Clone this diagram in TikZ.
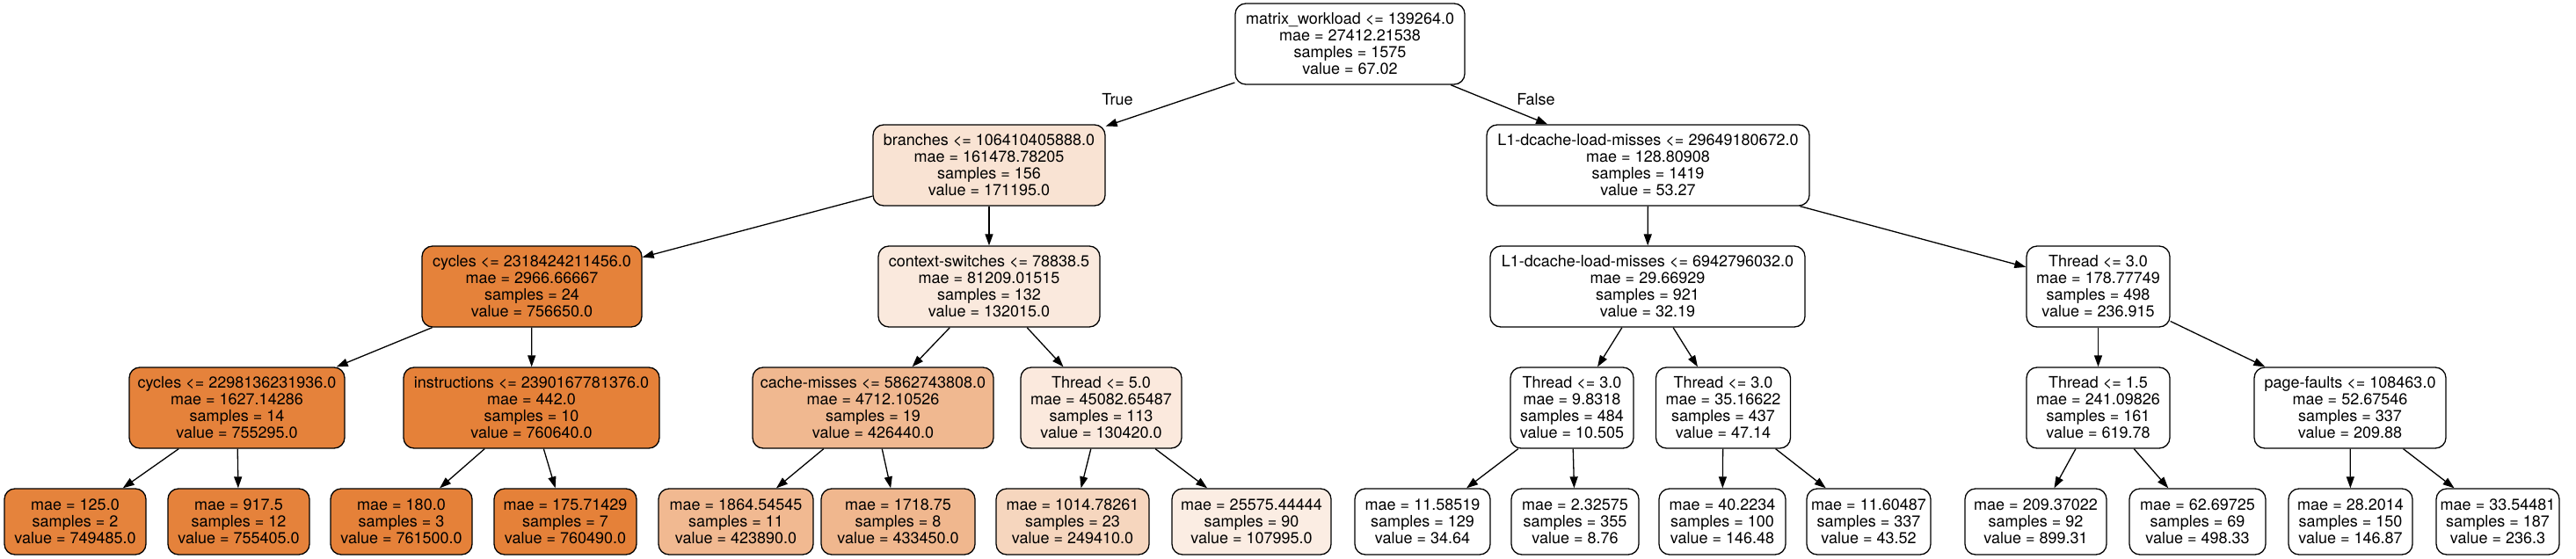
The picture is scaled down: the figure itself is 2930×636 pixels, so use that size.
\documentclass[tikz,border=0pt]{standalone}
\usepackage{fontspec}
\setmainfont{TeX Gyre Heros}
\usetikzlibrary{arrows.meta}
\definecolor{cA}{RGB}{229,129,57}
\definecolor{cB}{RGB}{229,130,58}
\definecolor{cC}{RGB}{229,130,59}
\definecolor{cD}{RGB}{229,131,60}
\definecolor{cE}{RGB}{240,183,142}
\definecolor{cF}{RGB}{241,185,145}
\definecolor{cG}{RGB}{240,184,144}
\definecolor{cH}{RGB}{246,214,190}
\definecolor{cI}{RGB}{249,227,211}
\definecolor{cJ}{RGB}{250,233,221}
\definecolor{cK}{RGB}{251,233,221}
\definecolor{cL}{RGB}{251,237,227}
\tikzset{
  tbox/.style={draw=black, line width=1.3pt, rounded corners=12pt, fill=white,
    align=center, inner sep=0pt, minimum height=92pt,
    font=\fontsize{18}{19}\selectfont},
  leaf/.style={tbox, minimum height=75pt},
  edge/.style={line width=1.3pt, -{Triangle[length=13pt,width=9pt]}},
  elabel/.style={font=\fontsize{18}{19}\selectfont, inner sep=0pt}
}
\begin{document}
\begin{tikzpicture}[x=1pt,y=-1pt]
\useasboundingbox (0,0) rectangle (2930,636);
% rank 0
\node[tbox, minimum width=261pt] (root) at (1535.5,50) {matrix\_workload <= 139264.0\\mae = 27412.21538\\samples = 1575\\value = 67.02};
% rank 1
\node[tbox, fill=cI, minimum width=264pt] (n1) at (1125,188) {branches <= 106410405888.0\\mae = 161478.78205\\samples = 156\\value = 171195.0};
\node[tbox, minimum width=367pt] (n16) at (1874.5,188) {L1-dcache-load-misses <= 29649180672.0\\mae = 128.80908\\samples = 1419\\value = 53.27};
% rank 2
\node[tbox, fill=cB, minimum width=250pt] (n2) at (605,326) {cycles <= 2318424211456.0\\mae = 2966.66667\\samples = 24\\value = 756650.0};
\node[tbox, fill=cJ, minimum width=252pt] (n9) at (1125,326) {context-switches <= 78838.5\\mae = 81209.01515\\samples = 132\\value = 132015.0};
\node[tbox, minimum width=358pt] (n17) at (1874,326) {L1-dcache-load-misses <= 6942796032.0\\mae = 29.66929\\samples = 921\\value = 32.19};
\node[tbox, minimum width=163pt] (n24) at (2386.5,326) {Thread <= 3.0\\mae = 178.77749\\samples = 498\\value = 236.915};
% rank 3
\node[tbox, fill=cC, minimum width=245pt] (n3) at (269.5,464) {cycles <= 2298136231936.0\\mae = 1627.14286\\samples = 14\\value = 755295.0};
\node[tbox, fill=cA, minimum width=291pt] (n6) at (604.5,464) {instructions <= 2390167781376.0\\mae = 442.0\\samples = 10\\value = 760640.0};
\node[tbox, fill=cG, minimum width=274pt] (n10) at (993,464) {cache-misses <= 5862743808.0\\mae = 4712.10526\\samples = 19\\value = 426440.0};
\node[tbox, fill=cK, minimum width=183pt] (n13) at (1252.5,464) {Thread <= 5.0\\mae = 45082.65487\\samples = 113\\value = 130420.0};
\node[tbox, minimum width=140pt] (n18) at (1788,464) {Thread <= 3.0\\mae = 9.8318\\samples = 484\\value = 10.505};
\node[tbox, minimum width=153pt] (n21) at (1960,464) {Thread <= 3.0\\mae = 35.16622\\samples = 437\\value = 47.14};
\node[tbox, minimum width=163pt] (n25) at (2386.5,464) {Thread <= 1.5\\mae = 241.09826\\samples = 161\\value = 619.78};
\node[tbox, minimum width=218pt] (n28) at (2673,464) {page-faults <= 108463.0\\mae = 52.67546\\samples = 337\\value = 209.88};
% rank 4 (leaves)
\node[leaf, fill=cD, minimum width=161pt] (n4) at (85.5,593.5) {mae = 125.0\\samples = 2\\value = 749485.0};
\node[leaf, fill=cC, minimum width=161pt] (n5) at (271.5,593.5) {mae = 917.5\\samples = 12\\value = 755405.0};
\node[leaf, fill=cA, minimum width=161pt] (n7) at (456.5,593.5) {mae = 180.0\\samples = 3\\value = 761500.0};
\node[leaf, fill=cA, minimum width=162pt] (n8) at (643,593.5) {mae = 175.71429\\samples = 7\\value = 760490.0};
\node[leaf, fill=cF, minimum width=176pt] (n11) at (837,593.5) {mae = 1864.54545\\samples = 11\\value = 423890.0};
\node[leaf, fill=cE, minimum width=175pt] (n12) at (1021.5,593.5) {mae = 1718.75\\samples = 8\\value = 433450.0};
\node[leaf, fill=cH, minimum width=174pt] (n14) at (1220,593.5) {mae = 1014.78261\\samples = 23\\value = 249410.0};
\node[leaf, fill=cL, minimum width=181pt] (n15) at (1423.5,593.5) {mae = 25575.44444\\samples = 90\\value = 107995.0};
\node[leaf, minimum width=154pt] (n19) at (1618,593.5) {mae = 11.58519\\samples = 129\\value = 34.64};
\node[leaf, minimum width=145pt] (n20) at (1791.5,593.5) {mae = 2.32575\\samples = 355\\value = 8.76};
\node[leaf, minimum width=144pt] (n22) at (1959,593.5) {mae = 40.2234\\samples = 100\\value = 146.48};
\node[leaf, minimum width=141pt] (n23) at (2125.5,593.5) {mae = 11.60487\\samples = 337\\value = 43.52};
\node[leaf, minimum width=161pt] (n26) at (2315.5,593.5) {mae = 209.37022\\samples = 92\\value = 899.31};
\node[leaf, minimum width=155pt] (n27) at (2499.5,593.5) {mae = 62.69725\\samples = 69\\value = 498.33};
\node[leaf, minimum width=141pt] (n29) at (2673.5,593.5) {mae = 28.2014\\samples = 150\\value = 146.87};
\node[leaf, minimum width=140pt] (n30) at (2841,593.5) {mae = 33.54481\\samples = 187\\value = 236.3};
% edge labels
\node[elabel] (lt) at (1271,113) {True};
\node[elabel] (lf) at (1747,113) {False};
% edges
\draw[edge] (root) -- (n1);
\draw[edge] (root) -- (n16);
\draw[edge] (n1) -- (n2);
\draw[edge] (n1) -- (n9);
\draw[edge] (n2) -- (n3);
\draw[edge] (n2) -- (n6);
\draw[edge] (n3) -- (n4);
\draw[edge] (n3) -- (n5);
\draw[edge] (n6) -- (n7);
\draw[edge] (n6) -- (n8);
\draw[edge] (n9) -- (n10);
\draw[edge] (n9) -- (n13);
\draw[edge] (n10) -- (n11);
\draw[edge] (n10) -- (n12);
\draw[edge] (n13) -- (n14);
\draw[edge] (n13) -- (n15);
\draw[edge] (n16) -- (n17);
\draw[edge] (n16) -- (n24);
\draw[edge] (n17) -- (n18);
\draw[edge] (n17) -- (n21);
\draw[edge] (n18) -- (n19);
\draw[edge] (n18) -- (n20);
\draw[edge] (n21) -- (n22);
\draw[edge] (n21) -- (n23);
\draw[edge] (n24) -- (n25);
\draw[edge] (n24) -- (n28);
\draw[edge] (n25) -- (n26);
\draw[edge] (n25) -- (n27);
\draw[edge] (n28) -- (n29);
\draw[edge] (n28) -- (n30);
\end{tikzpicture}
\end{document}
